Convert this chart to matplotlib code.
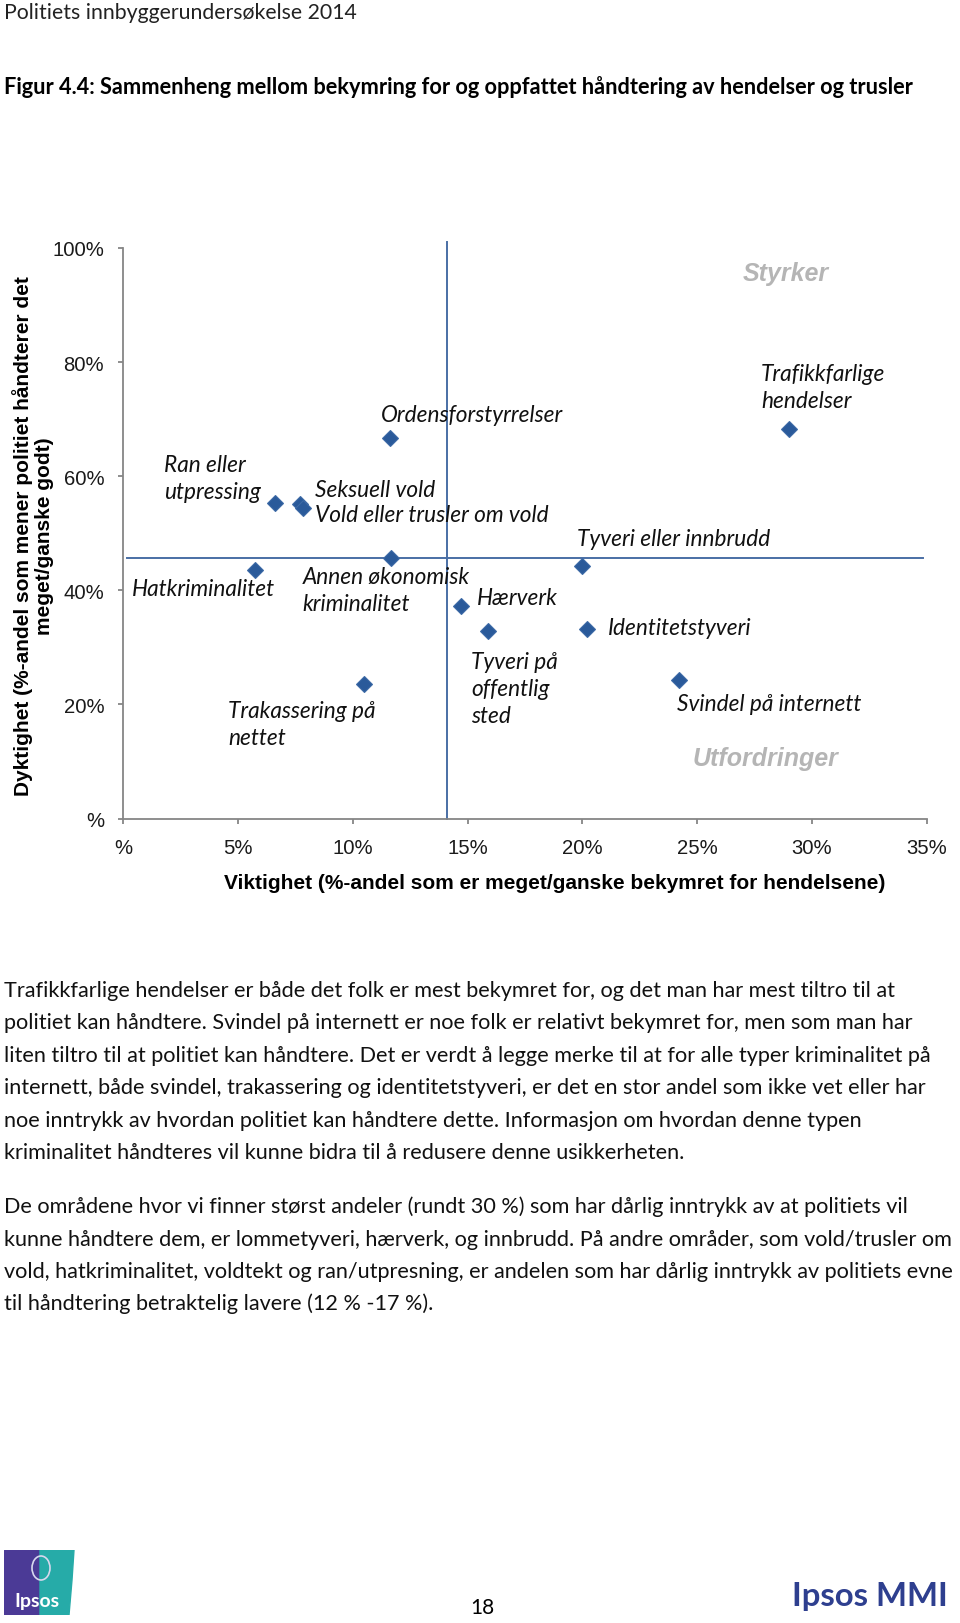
import matplotlib
matplotlib.use('Agg')
import numpy as np
import matplotlib.pyplot as plt
from matplotlib.patches import Rectangle, Polygon, Ellipse

W, H = 960, 1624

# Data (percent)
crimes = ['Ordensforstyrrelser', 'Trafikkfarlige\nhendelser', 'Ran eller\nutpressing',
          'Seksuell vold', 'Vold eller trusler om vold', 'Tyveri eller innbrudd',
          'Annen økonomisk\nkriminalitet', 'Hatkriminalitet', 'Hærverk', 'Identitetstyveri',
          'Tyveri på\noffentlig\nsted', 'Trakassering på\nnettet', 'Svindel på internett']
importance = [11.6, 29.0, 6.6, 7.7, 7.85, 20.0, 11.65, 5.75, 14.7, 20.2, 15.9, 10.5, 24.2]
competence = [66.7, 68.2, 55.3, 55.1, 54.4, 44.2, 45.7, 43.6, 37.3, 33.2, 32.9, 23.5, 24.3]

# label offsets from the point, in pixels
label_offsets = [(-9, 23), (-28, 42), (-111, 25), (15, 15), (12, -6), (-5, 28), (-88, -32),
                 (-123, -19), (16, 8), (21, 2), (-17, -58), (-136, -40), (-2, -24)]

mean_importance = 14.1
mean_competence = 45.6

x_ticks = [0, 5, 10, 15, 20, 25, 30, 35]
x_ticklabels = ['%', '5%', '10%', '15%', '20%', '25%', '30%', '35%']
y_ticks = [0, 20, 40, 60, 80, 100]
y_ticklabels = ['%', '20%', '40%', '60%', '80%', '100%']

header = 'Politiets innbyggerundersøkelse 2014'
title = 'Figur 4.4: Sammenheng mellom bekymring for og oppfattet håndtering av hendelser og trusler'
para1 = ['Trafikkfarlige hendelser er både det folk er mest bekymret for, og det man har mest tiltro til at',
         'politiet kan håndtere. Svindel på internett er noe folk er relativt bekymret for, men som man har',
         'liten tiltro til at politiet kan håndtere. Det er verdt å legge merke til at for alle typer kriminalitet på',
         'internett, både svindel, trakassering og identitetstyveri, er det en stor andel som ikke vet eller har',
         'noe inntrykk av hvordan politiet kan håndtere dette. Informasjon om hvordan denne typen',
         'kriminalitet håndteres vil kunne bidra til å redusere denne usikkerheten.']
para2 = ['De områdene hvor vi finner størst andeler (rundt 30 %) som har dårlig inntrykk av at politiets vil',
         'kunne håndtere dem, er lommetyveri, hærverk, og innbrudd. På andre områder, som vold/trusler om',
         'vold, hatkriminalitet, voldtekt og ran/utpresning, er andelen som har dårlig inntrykk av politiets evne',
         'til håndtering betraktelig lavere (12 % -17 %).']

body_font = 'Lato'
chart_font = 'Liberation Sans'
axis_grey = '#868686'
marker_blue = '#2a5a9a'
line_blue = '#4a6fa5'


def px(x, y):
    # pixel position on the page -> figure fraction
    return x / W, 1 - y / H


fig = plt.figure(figsize=(W / 100, H / 100), dpi=100)
fig.patch.set_facecolor('white')

# page text
fig.text(*px(4, 19), header, fontsize=15.3, family=body_font, va='baseline', color='#222222')
fig.text(*px(4, 94), title, fontsize=15.7, family=body_font, weight='bold', va='baseline')

y = 997
for line in para1:
    fig.text(*px(4, y), line, fontsize=15.6, family=body_font, va='baseline', color='#111111')
    y += 32.5
y = 1213
for line in para2:
    fig.text(*px(4, y), line, fontsize=15.6, family=body_font, va='baseline', color='#111111')
    y += 32.5

# scatter chart
left, right, top, bottom = 123.3, 926.7, 249, 819.5
ax = fig.add_axes([left / W, 1 - bottom / H, (right - left) / W, (bottom - top) / H])
ax.set_xlim(0, 35)
ax.set_ylim(0, 100)

ax.axvline(mean_importance, ymin=0, ymax=1.01, color=line_blue, lw=1.4, clip_on=False, zorder=1)
ax.plot([0.17, 34.85], [mean_competence, mean_competence], color=line_blue, lw=1.4, zorder=1)

ax.plot(importance, competence, 'D', ms=8, mfc=marker_blue, mec='#3d6aa6', mew=0.8,
        zorder=3, clip_on=False)

for name, xv, yv, (dx, dy) in zip(crimes, importance, competence, label_offsets):
    ax.annotate(name, (xv, yv), xytext=(dx, dy), textcoords='offset pixels',
                ha='left', va='center', fontsize=16.3, family=body_font, style='italic',
                linespacing=1.36, color='#111111', zorder=4)

ax.text(28.87, 95.7, 'Styrker', ha='center', va='center', fontsize=18, family=chart_font,
        weight='bold', style='italic', color='#b5b5b5')
ax.text(27.98, 10.6, 'Utfordringer', ha='center', va='center', fontsize=18, family=chart_font,
        weight='bold', style='italic', color='#b5b5b5')

for side in ['top', 'right']:
    ax.spines[side].set_visible(False)
for side in ['left', 'bottom']:
    ax.spines[side].set_color(axis_grey)
    ax.spines[side].set_linewidth(1.3)

ax.set_xticks(x_ticks)
ax.set_xticklabels(x_ticklabels)
ax.set_yticks(y_ticks)
ax.set_yticklabels(y_ticklabels)
ax.tick_params(direction='out', length=3.8, width=1.3, color=axis_grey, pad=10,
               labelsize=14.6, labelcolor='#1a1a1a')
for lab in ax.get_xticklabels() + ax.get_yticklabels():
    lab.set_family(chart_font)

ax.set_xlabel('Viktighet (%-andel som er meget/ganske bekymret for hendelsene)',
              fontsize=15, family=chart_font, weight='bold')
ax.xaxis.set_label_coords((554.5 - left) / (right - left), -(883.4 - bottom) / (bottom - top))
ax.xaxis.label.set_va('center')
ax.set_ylabel('Dyktighet (%-andel som mener politiet håndterer det\nmeget/ganske godt)',
              fontsize=15, family=chart_font, weight='bold', linespacing=1.1)
ax.yaxis.set_label_coords((33 - left) / (right - left), (bottom - 536) / (bottom - top))
ax.yaxis.label.set_va('center')
ax.yaxis.label.set_ha('center')

# footer: Ipsos logo (drawn in its own pixel box)
logo = fig.add_axes([4 / W, 1 - 1616 / H, 71 / W, 65 / H])
logo.set_xlim(0, 71)
logo.set_ylim(65, 0)
logo.axis('off')
logo.add_patch(Rectangle((0, 0), 36, 65, color='#4b3a96'))
logo.add_patch(Polygon([(36, 0), (70, 0), (68, 30), (65, 65), (36, 65)], closed=True, color='#26aba8'))
logo.add_patch(Ellipse((37, 18), 18, 24, facecolor='none', edgecolor='#d8d8ee', lw=1.2))
logo.text(33, 51, 'Ipsos', ha='center', va='center', fontsize=14, family=body_font,
          weight='bold', color='white')

fig.text(*px(482.6, 1614), '18', ha='center', va='baseline', fontsize=15, family=body_font)
fig.text(*px(792, 1606), 'Ipsos MMI', ha='left', va='baseline', fontsize=23.7,
         family=body_font, weight='bold', color='#2e3f8f')

fig.savefig('out.png', dpi=100)
